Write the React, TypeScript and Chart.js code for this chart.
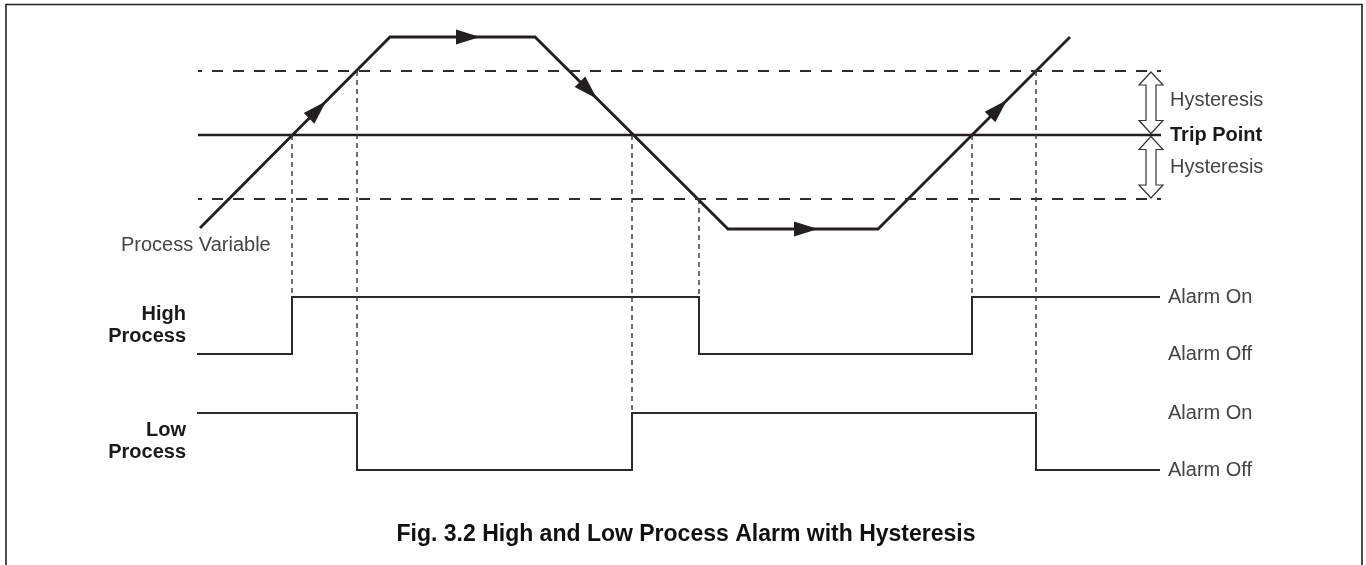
import React, { useEffect, useRef } from "react";
import { Chart, registerables } from "chart.js";

Chart.register(...registerables);

// ---------- DATA (diagram units: time → right, level → down) ----------
// Process variable trace
const pvTime = [200, 390, 535, 728, 878, 1070];
const pvLevel = [228, 37, 37, 229, 229, 37];
// Where the direction arrows sit (tip time along the trace)
const pvArrowTimes = [326, 480, 597, 818, 1007];

// Threshold levels
const hysteresisUpper = 71;
const tripPoint = 135;
const hysteresisLower = 199;
const thresholdStart = 198;
const thresholdEnd = 1161;

// High process alarm output (Alarm On = 297, Alarm Off = 354)
const highTime = [197, 292, 292, 699, 699, 972, 972, 1160];
const highLevel = [354, 354, 297, 297, 354, 354, 297, 297];

// Low process alarm output (Alarm On = 413, Alarm Off = 470)
const lowTime = [197, 357, 357, 632, 632, 1036, 1036, 1160];
const lowLevel = [413, 413, 470, 470, 413, 413, 470, 470];

// Vertical dashed guides: time, from level, to level
const guideTime = [292, 357, 632, 699, 972, 1036];
const guideFrom = [135, 71, 135, 199, 135, 71];
const guideTo = [297, 413, 413, 297, 297, 413];

// Texts
const alarmLabels = ["Alarm On", "Alarm Off", "Alarm On", "Alarm Off"];
const alarmLevels = [297, 354, 413, 470];
const thresholdLabels = ["Hysteresis", "Trip Point", "Hysteresis"];
const thresholdLabelBold = [false, true, false];
const titleText = "Fig. 3.2 High and Low Process Alarm with Hysteresis";

// ---------- LAYOUT / STYLE ----------
const W = 1366;
const H = 565;
const INK = "#231f20";
const LIGHT_TEXT = "#444444";
const FONT = "'Liberation Sans', Arial, Helvetica, sans-serif";

function pts(xs: number[], ys: number[]) {
  return xs.map((x, i) => ({ x, y: ys[i] }));
}

function pvAt(t: number) {
  for (let i = 0; i < pvTime.length - 1; i++) {
    const a = pvTime[i], b = pvTime[i + 1];
    if (t >= a && t <= b) {
      const f = (t - a) / (b - a);
      return {
        y: pvLevel[i] + f * (pvLevel[i + 1] - pvLevel[i]),
        dx: b - a,
        dy: pvLevel[i + 1] - pvLevel[i],
      };
    }
  }
  return { y: pvLevel[0], dx: 1, dy: 0 };
}

const overlayPlugin = {
  id: "overlay",
  afterDatasetsDraw(chart: any) {
    const ctx: CanvasRenderingContext2D = chart.ctx;
    const xs = chart.scales.x;
    const ys = chart.scales.y;
    const px = (v: number) => xs.getPixelForValue(v);
    const py = (v: number) => ys.getPixelForValue(v);

    ctx.save();

    // Frame
    ctx.strokeStyle = INK;
    ctx.lineWidth = 1.6;
    ctx.beginPath();
    ctx.moveTo(6, H + 2);
    ctx.lineTo(6, 4.5);
    ctx.lineTo(1362, 4.5);
    ctx.lineTo(1362, H + 2);
    ctx.stroke();

    // Direction arrows on the process variable
    ctx.fillStyle = INK;
    pvArrowTimes.forEach((t) => {
      const p = pvAt(t);
      const tx = px(t), ty = py(p.y);
      const ex = px(t + p.dx) - px(t), ey = py(p.y + p.dy) - py(p.y);
      const len = Math.hypot(ex, ey);
      const ux = ex / len, uy = ey / len;
      const L = 24, hw = 7.5;
      const bx = tx - ux * L, by = ty - uy * L;
      ctx.beginPath();
      ctx.moveTo(tx, ty);
      ctx.lineTo(bx - uy * hw, by + ux * hw);
      ctx.lineTo(bx + uy * hw, by - ux * hw);
      ctx.closePath();
      ctx.fill();
    });

    // Hollow double arrows for hysteresis bands
    const drawDouble = (cx: number, y1: number, y2: number) => {
      const hw = 12, sw = 5, hl = 13;
      ctx.beginPath();
      ctx.moveTo(cx, y1);
      ctx.lineTo(cx + hw, y1 + hl);
      ctx.lineTo(cx + sw, y1 + hl);
      ctx.lineTo(cx + sw, y2 - hl);
      ctx.lineTo(cx + hw, y2 - hl);
      ctx.lineTo(cx, y2);
      ctx.lineTo(cx - hw, y2 - hl);
      ctx.lineTo(cx - sw, y2 - hl);
      ctx.lineTo(cx - sw, y1 + hl);
      ctx.lineTo(cx - hw, y1 + hl);
      ctx.closePath();
      ctx.fillStyle = "#ffffff";
      ctx.fill();
      ctx.strokeStyle = "#333333";
      ctx.lineWidth = 1.2;
      ctx.stroke();
    };
    const ax = px(1151);
    drawDouble(ax, py(hysteresisUpper) + 1, py(tripPoint) - 1.5);
    drawDouble(ax, py(tripPoint) + 1.5, py(hysteresisLower) - 1);

    // Threshold labels
    ctx.textBaseline = "middle";
    ctx.textAlign = "left";
    const thrY = [(hysteresisUpper + tripPoint) / 2 - 3, tripPoint, (tripPoint + hysteresisLower) / 2];
    thresholdLabels.forEach((s, i) => {
      ctx.font = `${thresholdLabelBold[i] ? "bold " : ""}20px ${FONT}`;
      ctx.fillStyle = thresholdLabelBold[i] ? "#1a1a1a" : LIGHT_TEXT;
      ctx.fillText(s, px(1170), py(thrY[i]));
    });

    // Alarm labels
    ctx.font = `20px ${FONT}`;
    ctx.fillStyle = LIGHT_TEXT;
    alarmLabels.forEach((s, i) => {
      ctx.fillText(s, px(1168), py(alarmLevels[i] + 0.5));
    });

    // Process variable label
    ctx.fillText("Process Variable", px(121), py(245));

    // Signal names
    ctx.font = `bold 20px ${FONT}`;
    ctx.fillStyle = "#1a1a1a";
    ctx.textAlign = "right";
    ctx.fillText("High", px(186), py(314));
    ctx.fillText("Process", px(186), py(336));
    ctx.fillText("Low", px(186), py(430));
    ctx.fillText("Process", px(186), py(452));

    // Title
    ctx.font = `bold 23px ${FONT}`;
    ctx.textAlign = "center";
    ctx.fillStyle = "#111111";
    ctx.fillText(titleText, px(686), py(535));

    ctx.restore();
  },
};

export default function App() {
  const ref = useRef<HTMLCanvasElement | null>(null);

  useEffect(() => {
    const canvas = ref.current;
    if (!canvas) return;

    const guideSets = guideTime.map((t, i) => ({
      data: [
        { x: t, y: guideFrom[i] },
        { x: t, y: guideTo[i] },
      ],
      borderColor: "#333333",
      borderWidth: 1.4,
      borderDash: [5, 4],
    }));

    const datasets: any[] = [
      ...guideSets,
      {
        data: [
          { x: thresholdStart, y: hysteresisUpper },
          { x: thresholdEnd, y: hysteresisUpper },
        ],
        borderColor: "#2e2e2e",
        borderWidth: 2,
        borderDash: [11, 10],
        borderDashOffset: 7,
      },
      {
        data: [
          { x: thresholdStart, y: hysteresisLower },
          { x: thresholdEnd, y: hysteresisLower },
        ],
        borderColor: "#2e2e2e",
        borderWidth: 2,
        borderDash: [11, 10],
        borderDashOffset: 7,
      },
      {
        data: [
          { x: thresholdStart, y: tripPoint },
          { x: thresholdEnd, y: tripPoint },
        ],
        borderColor: INK,
        borderWidth: 2.6,
      },
      {
        data: pts(highTime, highLevel),
        borderColor: "#2a2a2a",
        borderWidth: 2,
      },
      {
        data: pts(lowTime, lowLevel),
        borderColor: "#2a2a2a",
        borderWidth: 2,
      },
      {
        data: pts(pvTime, pvLevel),
        borderColor: INK,
        borderWidth: 2.8,
      },
    ].map((d) => ({
      showLine: true,
      pointRadius: 0,
      pointHoverRadius: 0,
      tension: 0,
      fill: false,
      borderCapStyle: "butt",
      borderJoinStyle: "miter",
      ...d,
    }));

    const chart = new Chart(canvas, {
      type: "scatter",
      data: { datasets },
      options: {
        animation: false,
        responsive: false,
        devicePixelRatio: 1,
        events: [],
        layout: { padding: 0 },
        plugins: {
          legend: { display: false },
          tooltip: { enabled: false },
        },
        scales: {
          x: { type: "linear", min: 0, max: W, display: false },
          y: { type: "linear", min: 0, max: H, reverse: true, display: false },
        },
      },
      plugins: [overlayPlugin],
    });

    return () => chart.destroy();
  }, []);

  return (
    <div style={{ position: "fixed", left: 0, top: 0, width: W, height: H, background: "#fff" }}>
      <canvas ref={ref} width={W} height={H} style={{ display: "block" }} />
    </div>
  );
}
